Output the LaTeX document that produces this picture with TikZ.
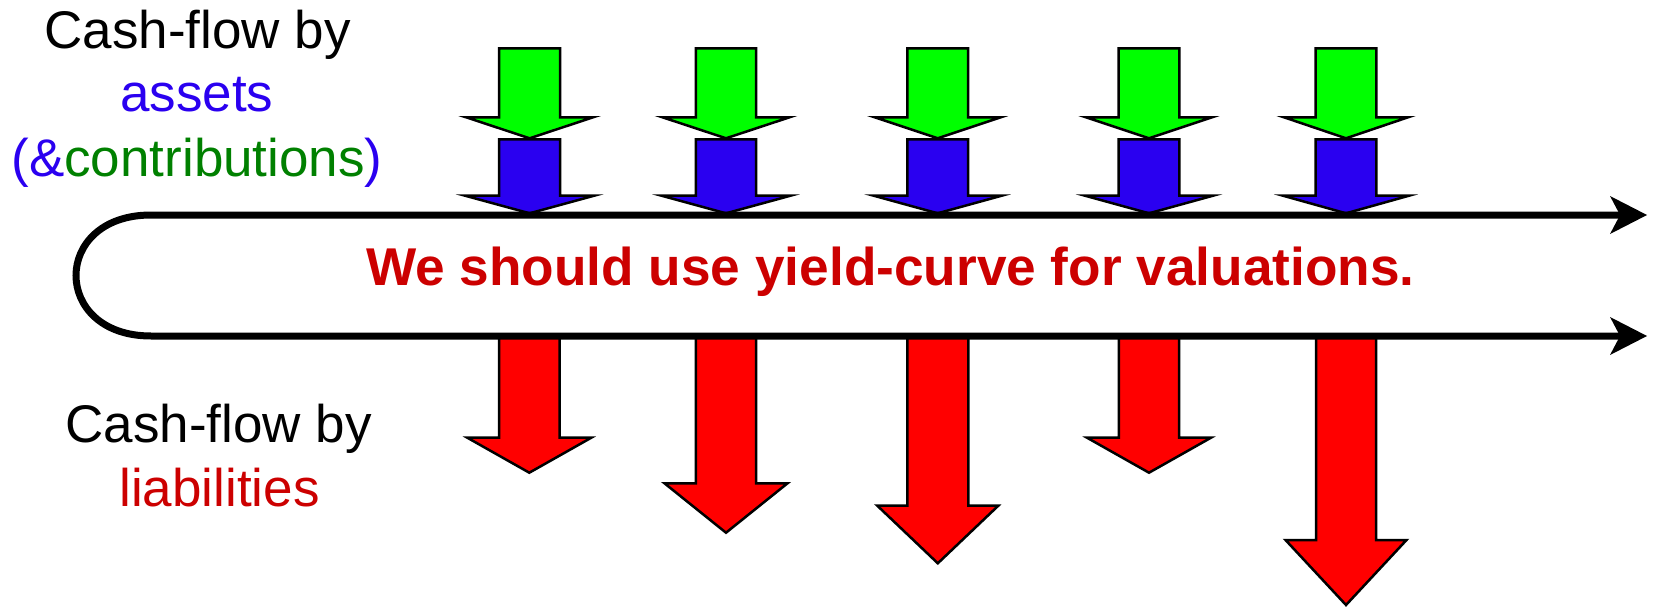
\documentclass[tikz,border=0pt]{standalone}
\usepackage{fontspec}
\setmainfont{Liberation Sans}
\usetikzlibrary{arrows.meta}
\definecolor{agreen}{RGB}{0,255,0}
\definecolor{ablue}{RGB}{42,0,240}
\definecolor{ared}{RGB}{255,0,0}
\definecolor{tgreen}{RGB}{0,128,0}
\definecolor{tred}{RGB}{204,0,0}
\newcommand{\cfdown}[8]{% color, cx, top, shaft half, wing y, wing half, tip y, name
  \filldraw[fill=#1,draw=black,line width=2.5pt]
    (#2-#4,#3) -- (#2+#4,#3) -- (#2+#4,#5) -- (#2+#6,#5) -- (#2,#7)
    -- (#2-#6,#5) -- (#2-#4,#5) -- cycle;
  \coordinate (#8) at (#2,#7);}
\begin{document}
\begin{tikzpicture}[x=1pt,y=-1pt,
  lbl/.style={inner sep=0pt,anchor=base,font=\fontsize{53}{53}\selectfont},
  mainlbl/.style={inner sep=0pt,anchor=base,font=\fontsize{53.2}{53}\selectfont\bfseries,text=tred},
  flow/.style={line width=7pt,draw=black,
    {Stealth[length=37pt,width=38pt,inset=10pt,line width=0pt]}-{Stealth[length=37pt,width=38pt,inset=10pt,line width=0pt]}}]
\useasboundingbox (0,0) rectangle (1654,607);
% green (contributions)
\cfdown{agreen}{529.6}{48.3}{30.4}{117.3}{63.5}{138.3}{g1}
\cfdown{agreen}{726}{48.3}{30.2}{117.3}{63.5}{138.3}{g2}
\cfdown{agreen}{937.7}{48.3}{30.4}{117.3}{63}{138.3}{g3}
\cfdown{agreen}{1149}{48.3}{30.3}{117.3}{63}{138.3}{g4}
\cfdown{agreen}{1346}{48.3}{30.4}{117.3}{62}{138.3}{g5}
% blue (assets)
\cfdown{ablue}{529.6}{139.3}{30.4}{195.7}{64.5}{213.3}{b1}
\cfdown{ablue}{726}{139.3}{30.2}{195.7}{64.5}{213.3}{b2}
\cfdown{ablue}{937.7}{139.3}{30.4}{195.7}{64}{213.3}{b3}
\cfdown{ablue}{1149}{139.3}{30.3}{195.7}{64}{213.3}{b4}
\cfdown{ablue}{1346}{139.3}{30.4}{195.7}{63}{213.3}{b5}
% red (liabilities)
\cfdown{ared}{529.3}{337}{30.3}{437.7}{62}{472.7}{r1}
\cfdown{ared}{726}{337}{30.2}{483.3}{61.5}{532.7}{r2}
\cfdown{ared}{937.8}{337}{30.5}{505.7}{60.5}{563.3}{r3}
\cfdown{ared}{1149}{337}{30.2}{437.7}{62}{472.7}{r4}
\cfdown{ared}{1346}{337}{30}{540}{60.5}{605}{r5}
% time line
\coordinate (tA) at (151,215);
\coordinate (tB) at (1647,215);
\coordinate (bA) at (151,336);
\coordinate (bB) at (1647,336);
\draw[flow] (tB) -- (tA) .. controls +(-100,0) and +(-100,0) .. (bA) -- (bB);
% texts
\node[lbl] (c1) at (197.5,49) {Cash-flow by};
\node[lbl,text=ablue] (c2) at (196.7,111.7) {assets};
\node[lbl] (c3) at (197,176) {\textcolor{ablue}{(\&}\textcolor{tgreen}{contributions}\textcolor{ablue}{)}};
\node[lbl] (l1) at (218.5,442.3) {Cash-flow by};
\node[lbl,text=tred] (l2) at (219.5,506) {liabilities};
\node[mainlbl] (m) at (890.3,285) {We should use yield-curve for valuations.};
\end{tikzpicture}
\end{document}
